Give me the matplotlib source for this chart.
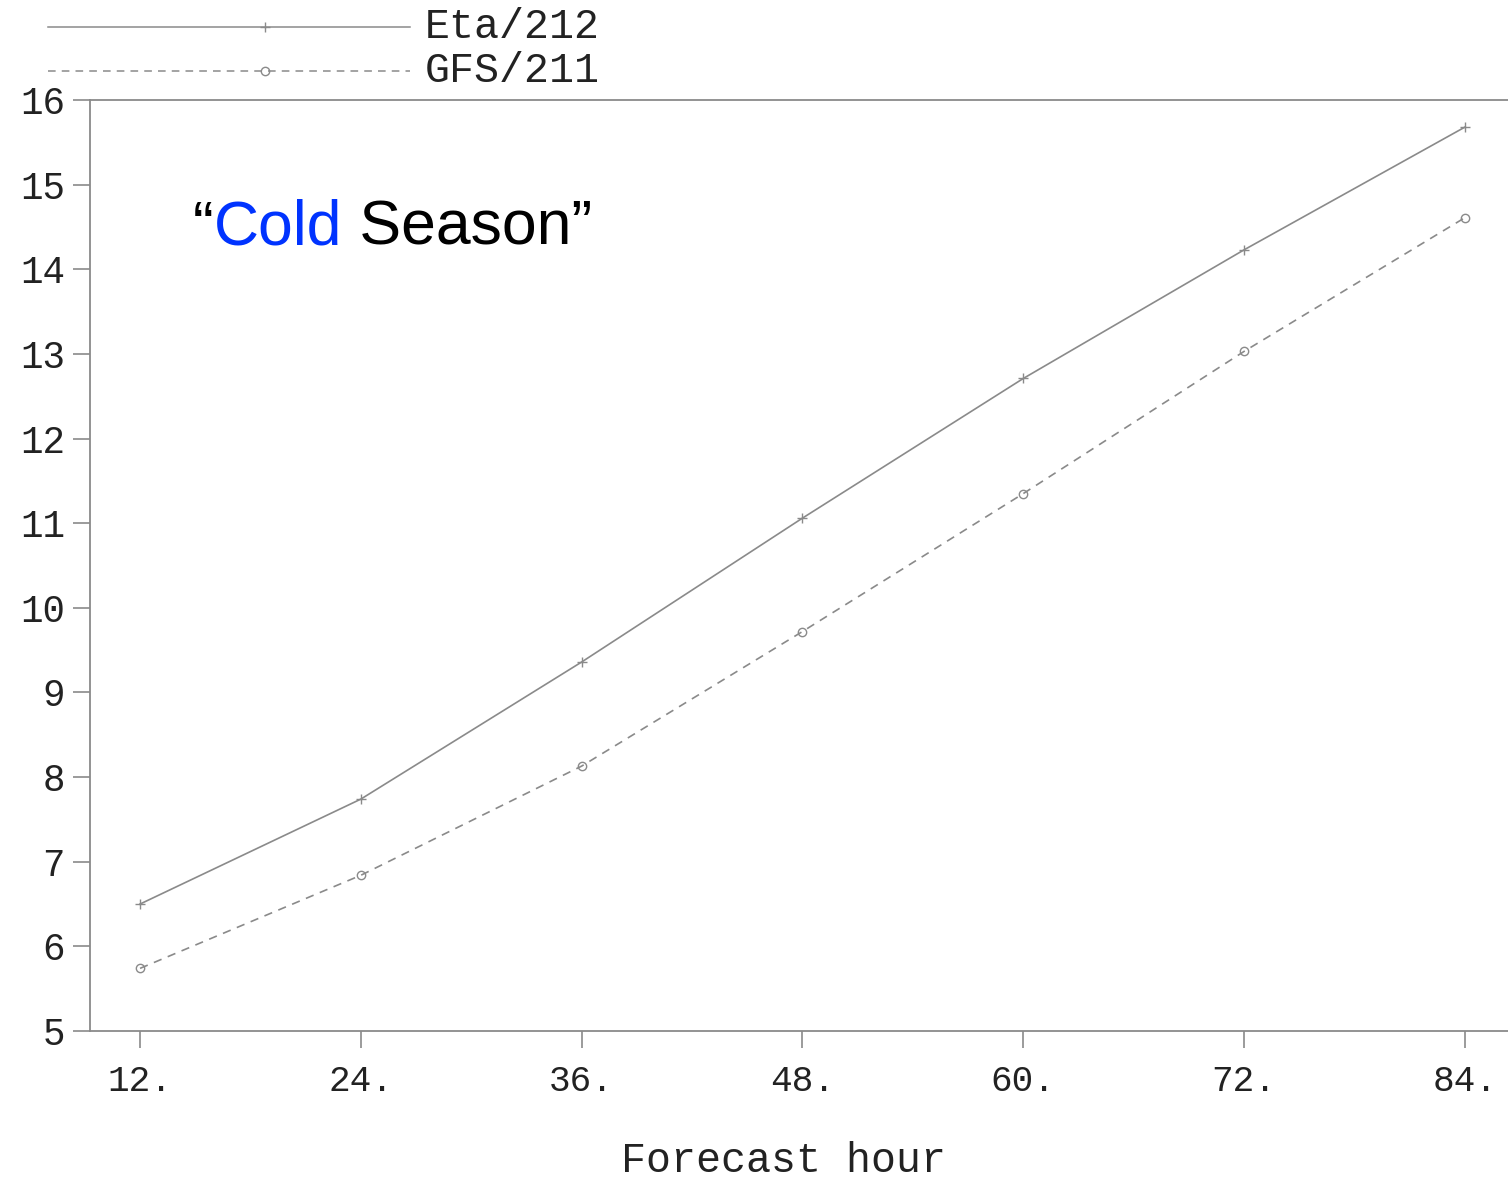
import matplotlib
matplotlib.use('Agg')
from matplotlib import pyplot as plt
from matplotlib.lines import Line2D

hours = [12, 24, 36, 48, 60, 72, 84]
eta_212 = [6.50, 7.74, 9.36, 11.06, 12.71, 14.23, 15.68]
gfs_211 = [5.74, 6.84, 8.13, 9.72, 11.35, 13.03, 14.61]
xtick_labels = ['12.', '24.', '36.', '48.', '60.', '72.', '84.']
yticks = list(range(5, 17))

mono = 'Liberation Mono'
grey = '#8a8a8a'
txt = '#222222'

fig = plt.figure(figsize=(15.08, 11.83), dpi=100)
ax = fig.add_axes([90 / 1508, 152 / 1183, 1 - 90 / 1508, 931 / 1183])

ax.plot(hours, eta_212, color=grey, lw=1.2, marker='+', ms=7, mew=1.0)
ax.plot(hours, gfs_211, color=grey, lw=1.2, ls=(0, (5, 4)), marker='o', ms=6,
        mfc='none', mew=1.0)

ax.set_xlim(9.28, 86.34)
ax.set_ylim(5, 16)
ax.set_xticks(hours)
ax.set_xticklabels(xtick_labels, fontfamily=mono, fontsize=26, color=txt)
ax.set_yticks(yticks)
ax.set_yticklabels([str(v) for v in yticks], fontfamily=mono, fontsize=27, color=txt)
ax.tick_params(axis='both', direction='out', length=12, width=1.2, color=grey, pad=12)
ax.tick_params(axis='y', pad=6)
for s in ['left', 'top', 'bottom']:
    ax.spines[s].set_color(grey)
    ax.spines[s].set_linewidth(1.3)
ax.spines['right'].set_visible(False)

ax.set_xlabel('Forecast hour', fontfamily=mono, fontsize=30, color=txt, va='center')
ax.xaxis.set_label_coords(0.489, -0.14)

# title text inside the plot
t1 = ax.text(193 / 1508, 1 - 245 / 1183, '\u201c', transform=fig.transFigure,
             fontfamily='Liberation Sans', fontsize=45, color='black')
t2 = ax.annotate('Cold', xycoords=t1, xy=(1, 0), va='bottom',
                 fontfamily='Liberation Sans', fontsize=45, color='#0033ff')
ax.annotate(' Season\u201d', xycoords=t2, xy=(1, 0), va='bottom',
            fontfamily='Liberation Sans', fontsize=45, color='black')

# legend drawn at the top of the figure
leg = [('Eta/212', '-', '+', 1 - 27 / 1183), ('GFS/211', (0, (5, 4)), 'o', 1 - 71 / 1183)]
for label, ls, mk, yy in leg:
    fig.add_artist(Line2D([48 / 1508, 410 / 1508], [yy, yy], transform=fig.transFigure,
                          color=grey, lw=1.1, ls=ls))
    fig.add_artist(Line2D([265 / 1508], [yy], transform=fig.transFigure, color=grey,
                          marker=mk, ms=7 if mk == '+' else 6, mfc='none', mew=1.0))
    fig.text(425 / 1508, yy, label, fontfamily=mono, fontsize=30, va='center', color=txt)

fig.savefig('out.png', dpi=100)
